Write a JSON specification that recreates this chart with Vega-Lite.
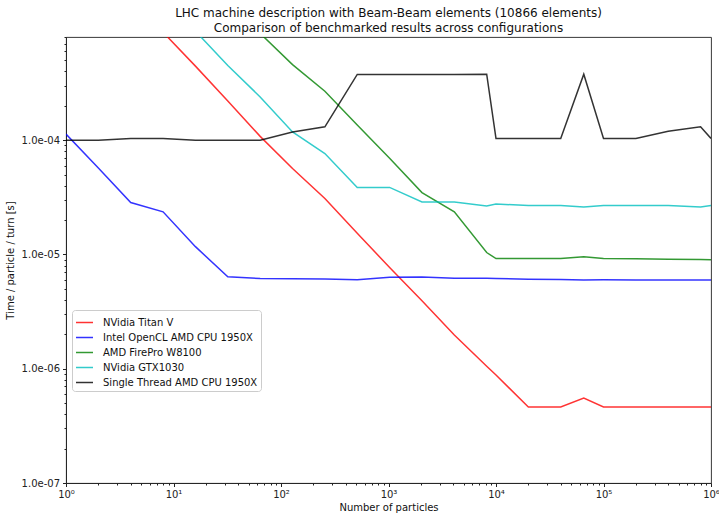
{
  "$schema": "https://vega.github.io/schema/vega-lite/v6.json",
  "width": 645,
  "height": 446,
  "autosize": {"type": "none"},
  "padding": {"left": 66, "top": 37, "right": 8, "bottom": 34},
  "background": "white",
  "config": {
    "font": "DejaVu Sans",
    "view": {"stroke": "#222", "strokeWidth": 0.9}
  },
  "title": {
    "text": ["LHC machine description with Beam-Beam elements (10866 elements)", "Comparison of benchmarked results across configurations"],
    "fontSize": 12,
    "fontWeight": "normal",
    "font": "DejaVu Sans",
    "color": "#111",
    "lineHeight": 15,
    "offset": -3,
    "anchor": "middle"
  },
  "data": {
    "values": [
      {"n": 4, "t": 1.76e-3, "s": "NVidia Titan V"},
      {"n": 8, "t": 8.8e-4, "s": "NVidia Titan V"},
      {"n": 16, "t": 4.45e-4, "s": "NVidia Titan V"},
      {"n": 32, "t": 2.2e-4, "s": "NVidia Titan V"},
      {"n": 64, "t": 1.08e-4, "s": "NVidia Titan V"},
      {"n": 128, "t": 5.65e-5, "s": "NVidia Titan V"},
      {"n": 256, "t": 3.09e-5, "s": "NVidia Titan V"},
      {"n": 512, "t": 1.53e-5, "s": "NVidia Titan V"},
      {"n": 1024, "t": 7.7e-6, "s": "NVidia Titan V"},
      {"n": 2048, "t": 3.93e-6, "s": "NVidia Titan V"},
      {"n": 4096, "t": 1.97e-6, "s": "NVidia Titan V"},
      {"n": 8192, "t": 1.05e-6, "s": "NVidia Titan V"},
      {"n": 10000, "t": 8.8e-7, "s": "NVidia Titan V"},
      {"n": 20000, "t": 4.63e-7, "s": "NVidia Titan V"},
      {"n": 40000, "t": 4.63e-7, "s": "NVidia Titan V"},
      {"n": 65536, "t": 5.53e-7, "s": "NVidia Titan V"},
      {"n": 100000, "t": 4.63e-7, "s": "NVidia Titan V"},
      {"n": 200000, "t": 4.63e-7, "s": "NVidia Titan V"},
      {"n": 400000, "t": 4.63e-7, "s": "NVidia Titan V"},
      {"n": 800000, "t": 4.63e-7, "s": "NVidia Titan V"},
      {"n": 1000000, "t": 4.63e-7, "s": "NVidia Titan V"},

      {"n": 1, "t": 1.13e-4, "s": "Intel OpenCL AMD CPU 1950X"},
      {"n": 2, "t": 5.7e-5, "s": "Intel OpenCL AMD CPU 1950X"},
      {"n": 4, "t": 2.85e-5, "s": "Intel OpenCL AMD CPU 1950X"},
      {"n": 8, "t": 2.36e-5, "s": "Intel OpenCL AMD CPU 1950X"},
      {"n": 16, "t": 1.17e-5, "s": "Intel OpenCL AMD CPU 1950X"},
      {"n": 32, "t": 6.37e-6, "s": "Intel OpenCL AMD CPU 1950X"},
      {"n": 64, "t": 6.16e-6, "s": "Intel OpenCL AMD CPU 1950X"},
      {"n": 128, "t": 6.12e-6, "s": "Intel OpenCL AMD CPU 1950X"},
      {"n": 256, "t": 6.1e-6, "s": "Intel OpenCL AMD CPU 1950X"},
      {"n": 512, "t": 6.0e-6, "s": "Intel OpenCL AMD CPU 1950X"},
      {"n": 1024, "t": 6.33e-6, "s": "Intel OpenCL AMD CPU 1950X"},
      {"n": 2048, "t": 6.35e-6, "s": "Intel OpenCL AMD CPU 1950X"},
      {"n": 4096, "t": 6.2e-6, "s": "Intel OpenCL AMD CPU 1950X"},
      {"n": 8192, "t": 6.18e-6, "s": "Intel OpenCL AMD CPU 1950X"},
      {"n": 10000, "t": 6.16e-6, "s": "Intel OpenCL AMD CPU 1950X"},
      {"n": 20000, "t": 6.06e-6, "s": "Intel OpenCL AMD CPU 1950X"},
      {"n": 40000, "t": 6.03e-6, "s": "Intel OpenCL AMD CPU 1950X"},
      {"n": 65536, "t": 5.99e-6, "s": "Intel OpenCL AMD CPU 1950X"},
      {"n": 100000, "t": 6.0e-6, "s": "Intel OpenCL AMD CPU 1950X"},
      {"n": 200000, "t": 5.97e-6, "s": "Intel OpenCL AMD CPU 1950X"},
      {"n": 400000, "t": 5.97e-6, "s": "Intel OpenCL AMD CPU 1950X"},
      {"n": 800000, "t": 5.97e-6, "s": "Intel OpenCL AMD CPU 1950X"},
      {"n": 1000000, "t": 5.97e-6, "s": "Intel OpenCL AMD CPU 1950X"},

      {"n": 32, "t": 1.72e-3, "s": "AMD FirePro W8100"},
      {"n": 64, "t": 8.6e-4, "s": "AMD FirePro W8100"},
      {"n": 128, "t": 4.59e-4, "s": "AMD FirePro W8100"},
      {"n": 256, "t": 2.68e-4, "s": "AMD FirePro W8100"},
      {"n": 512, "t": 1.36e-4, "s": "AMD FirePro W8100"},
      {"n": 1024, "t": 6.96e-5, "s": "AMD FirePro W8100"},
      {"n": 2048, "t": 3.48e-5, "s": "AMD FirePro W8100"},
      {"n": 4096, "t": 2.36e-5, "s": "AMD FirePro W8100"},
      {"n": 8192, "t": 1.04e-5, "s": "AMD FirePro W8100"},
      {"n": 10000, "t": 9.2e-6, "s": "AMD FirePro W8100"},
      {"n": 20000, "t": 9.2e-6, "s": "AMD FirePro W8100"},
      {"n": 40000, "t": 9.2e-6, "s": "AMD FirePro W8100"},
      {"n": 65536, "t": 9.53e-6, "s": "AMD FirePro W8100"},
      {"n": 100000, "t": 9.2e-6, "s": "AMD FirePro W8100"},
      {"n": 200000, "t": 9.15e-6, "s": "AMD FirePro W8100"},
      {"n": 400000, "t": 9.1e-6, "s": "AMD FirePro W8100"},
      {"n": 800000, "t": 9.05e-6, "s": "AMD FirePro W8100"},
      {"n": 1000000, "t": 9.0e-6, "s": "AMD FirePro W8100"},

      {"n": 8, "t": 1.8e-3, "s": "NVidia GTX1030"},
      {"n": 16, "t": 9.0e-4, "s": "NVidia GTX1030"},
      {"n": 32, "t": 4.5e-4, "s": "NVidia GTX1030"},
      {"n": 64, "t": 2.39e-4, "s": "NVidia GTX1030"},
      {"n": 128, "t": 1.18e-4, "s": "NVidia GTX1030"},
      {"n": 256, "t": 7.64e-5, "s": "NVidia GTX1030"},
      {"n": 512, "t": 3.86e-5, "s": "NVidia GTX1030"},
      {"n": 1024, "t": 3.86e-5, "s": "NVidia GTX1030"},
      {"n": 2048, "t": 2.88e-5, "s": "NVidia GTX1030"},
      {"n": 4096, "t": 2.88e-5, "s": "NVidia GTX1030"},
      {"n": 8192, "t": 2.65e-5, "s": "NVidia GTX1030"},
      {"n": 10000, "t": 2.76e-5, "s": "NVidia GTX1030"},
      {"n": 20000, "t": 2.68e-5, "s": "NVidia GTX1030"},
      {"n": 40000, "t": 2.68e-5, "s": "NVidia GTX1030"},
      {"n": 65536, "t": 2.6e-5, "s": "NVidia GTX1030"},
      {"n": 100000, "t": 2.68e-5, "s": "NVidia GTX1030"},
      {"n": 200000, "t": 2.68e-5, "s": "NVidia GTX1030"},
      {"n": 400000, "t": 2.68e-5, "s": "NVidia GTX1030"},
      {"n": 800000, "t": 2.6e-5, "s": "NVidia GTX1030"},
      {"n": 1000000, "t": 2.68e-5, "s": "NVidia GTX1030"},

      {"n": 1, "t": 1.0e-4, "s": "Single Thread AMD CPU 1950X"},
      {"n": 2, "t": 1.0e-4, "s": "Single Thread AMD CPU 1950X"},
      {"n": 4, "t": 1.035e-4, "s": "Single Thread AMD CPU 1950X"},
      {"n": 8, "t": 1.035e-4, "s": "Single Thread AMD CPU 1950X"},
      {"n": 16, "t": 1.0e-4, "s": "Single Thread AMD CPU 1950X"},
      {"n": 32, "t": 1.0e-4, "s": "Single Thread AMD CPU 1950X"},
      {"n": 64, "t": 1.0e-4, "s": "Single Thread AMD CPU 1950X"},
      {"n": 128, "t": 1.18e-4, "s": "Single Thread AMD CPU 1950X"},
      {"n": 256, "t": 1.31e-4, "s": "Single Thread AMD CPU 1950X"},
      {"n": 512, "t": 3.76e-4, "s": "Single Thread AMD CPU 1950X"},
      {"n": 1024, "t": 3.76e-4, "s": "Single Thread AMD CPU 1950X"},
      {"n": 2048, "t": 3.75e-4, "s": "Single Thread AMD CPU 1950X"},
      {"n": 4096, "t": 3.76e-4, "s": "Single Thread AMD CPU 1950X"},
      {"n": 8192, "t": 3.78e-4, "s": "Single Thread AMD CPU 1950X"},
      {"n": 10000, "t": 1.035e-4, "s": "Single Thread AMD CPU 1950X"},
      {"n": 20000, "t": 1.035e-4, "s": "Single Thread AMD CPU 1950X"},
      {"n": 40000, "t": 1.035e-4, "s": "Single Thread AMD CPU 1950X"},
      {"n": 65536, "t": 3.78e-4, "s": "Single Thread AMD CPU 1950X"},
      {"n": 100000, "t": 1.035e-4, "s": "Single Thread AMD CPU 1950X"},
      {"n": 200000, "t": 1.035e-4, "s": "Single Thread AMD CPU 1950X"},
      {"n": 400000, "t": 1.2e-4, "s": "Single Thread AMD CPU 1950X"},
      {"n": 800000, "t": 1.31e-4, "s": "Single Thread AMD CPU 1950X"},
      {"n": 1000000, "t": 1.035e-4, "s": "Single Thread AMD CPU 1950X"}
    ]
  },
  "mark": {"type": "line", "strokeWidth": 1.5, "opacity": 0.8, "clip": true},
  "encoding": {
    "x": {
      "field": "n",
      "type": "quantitative",
      "scale": {"type": "log", "domain": [1, 1000000], "nice": false},
      "axis": {
        "title": "Number of particles",
        "titleFontSize": 10,
        "titleFontWeight": "normal",
        "titleColor": "#111",
        "titlePadding": 3,
        "values": [1,2,3,4,5,6,7,8,9,10,20,30,40,50,60,70,80,90,100,200,300,400,500,600,700,800,900,1000,2000,3000,4000,5000,6000,7000,8000,9000,10000,20000,30000,40000,50000,60000,70000,80000,90000,100000,200000,300000,400000,500000,600000,700000,800000,900000,1000000],
        "labelExpr": "abs(log(datum.value)/LN10 - round(log(datum.value)/LN10)) < 1e-6 ? '10' + ['⁰','¹','²','³','⁴','⁵','⁶'][round(log(datum.value)/LN10)] : ''",
        "labelOverlap": false,
        "labelFlush": false,
        "labelBound": false,
        "labelFontSize": 10,
        "labelColor": "#222",
        "labelPadding": 3,
        "tickColor": "#222",
        "tickSize": {"condition": {"test": "abs(log(datum.value)/LN10 - round(log(datum.value)/LN10)) < 1e-6", "value": 3.5}, "value": 2},
        "domainColor": "#222",
        "domainWidth": 0.9,
        "grid": false
      }
    },
    "y": {
      "field": "t",
      "type": "quantitative",
      "scale": {"type": "log", "domain": [1e-7, 8e-4], "nice": false},
      "axis": {
        "title": "Time / particle / turn [s]",
        "titleFontSize": 10,
        "titleFontWeight": "normal",
        "titleColor": "#111",
        "titlePadding": 6,
        "values": [1e-7,2e-7,3e-7,4e-7,5e-7,6e-7,7e-7,8e-7,9e-7,1e-6,2e-6,3e-6,4e-6,5e-6,6e-6,7e-6,8e-6,9e-6,1e-5,2e-5,3e-5,4e-5,5e-5,6e-5,7e-5,8e-5,9e-5,1e-4,2e-4,3e-4,4e-4,5e-4,6e-4,7e-4,8e-4],
        "labelExpr": "abs(log(datum.value)/LN10 - round(log(datum.value)/LN10)) < 1e-6 ? '1.0e-0' + (-round(log(datum.value)/LN10)) : ''",
        "labelOverlap": false,
        "labelFlush": false,
        "labelBound": false,
        "labelFontSize": 10,
        "labelColor": "#222",
        "labelPadding": 3,
        "tickColor": "#222",
        "tickSize": {"condition": {"test": "abs(log(datum.value)/LN10 - round(log(datum.value)/LN10)) < 1e-6", "value": 3.5}, "value": 2},
        "domainColor": "#222",
        "domainWidth": 0.9,
        "grid": false
      }
    },
    "color": {
      "field": "s",
      "type": "nominal",
      "scale": {
        "domain": ["NVidia Titan V", "Intel OpenCL AMD CPU 1950X", "AMD FirePro W8100", "NVidia GTX1030", "Single Thread AMD CPU 1950X"],
        "range": ["#ff0000", "#0000ff", "#008000", "#00bfbf", "#000000"]
      },
      "legend": {
        "title": null,
        "orient": "none",
        "legendX": 6,
        "legendY": 273,
        "symbolType": "stroke",
        "symbolSize": 289,
        "symbolStrokeWidth": 1.5,
        "symbolOpacity": 0.8,
        "labelFontSize": 10,
        "labelColor": "#111",
        "labelOffset": 9,
        "rowPadding": 0,
        "padding": 3,
        "strokeColor": "#cccccc",
        "fillColor": "rgba(255,255,255,0.8)",
        "cornerRadius": 3
      }
    }
  }
}
